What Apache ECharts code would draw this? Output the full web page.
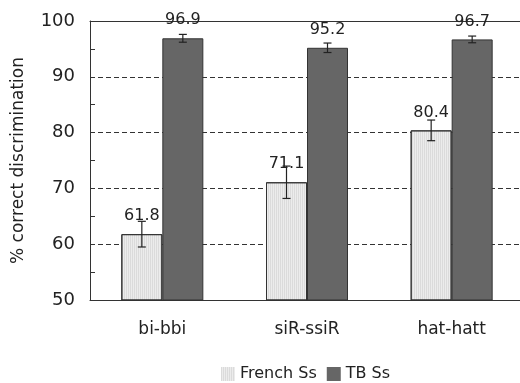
<!DOCTYPE html>
<html>
<head>
<meta charset="utf-8">
<script src="https://cdn.jsdelivr.net/npm/echarts@6/dist/echarts.min.js"></script>
<style>html,body{margin:0;padding:0;background:#fff;}#main{width:520px;height:383px;}</style>
</head>
<body>
<div id="main"></div>
<script>
var categories = ['bi-bbi', 'siR-ssiR', 'hat-hatt'];
var frenchValues = [61.8, 71.1, 80.4];
var frenchErrors = [2.3, 2.9, 1.85];
var tbValues = [96.9, 95.2, 96.7];
var tbErrors = [0.7, 0.85, 0.6];
var seriesNames = ['French Ss', 'TB Ss'];
var yTicks = [50, 60, 70, 80, 90, 100];

var FONT = 'DejaVu Sans';
var BAR_W = 41;

function errData(vals, errs) {
  return vals.map(function (v, i) { return [i, v, errs[i]]; });
}
function errRender(offset) {
  return function (params, api) {
    var i = api.value(0), v = api.value(1), e = api.value(2);
    var top = api.coord([i, v + e]);
    var bot = api.coord([i, v - e]);
    var x = top[0] + offset;
    var cap = 4;
    var st = { stroke: '#222', lineWidth: 1.2 };
    return {
      type: 'group',
      children: [
        { type: 'line', shape: { x1: x, y1: top[1], x2: x, y2: bot[1] }, style: st },
        { type: 'line', shape: { x1: x - cap, y1: top[1], x2: x + cap, y2: top[1] }, style: st },
        { type: 'line', shape: { x1: x - cap, y1: bot[1], x2: x + cap, y2: bot[1] }, style: st }
      ]
    };
  };
}

var chart = echarts.init(document.getElementById('main'), null, { renderer: 'canvas' });
chart.setOption({
  animation: false,
  backgroundColor: '#fff',
  textStyle: { fontFamily: FONT },
  grid: { left: 90, width: 434, top: 21, height: 279, outerBoundsMode: 'none', containLabel: false },
  legend: {
    data: seriesNames,
    left: 216, top: 361,
    itemWidth: 14, itemHeight: 14, itemGap: 10,
    icon: 'rect',
    itemStyle: { borderWidth: 0 },
    textStyle: { fontSize: 16, color: '#222', fontFamily: FONT }
  },
  xAxis: [{
    type: 'category',
    data: categories,
    axisLine: { lineStyle: { color: '#333' } },
    axisTick: { show: false },
    axisLabel: { fontSize: 17, color: '#222', margin: 21, fontFamily: FONT },
    splitLine: { show: false }
  }, {
    type: 'category',
    position: 'top',
    data: categories,
    axisLine: { show: true, onZero: false, lineStyle: { color: '#333' } },
    axisTick: { show: false },
    axisLabel: { show: false },
    splitLine: { show: false }
  }],
  yAxis: [{
    type: 'value',
    min: yTicks[0], max: yTicks[yTicks.length - 1], interval: 10,
    name: '% correct discrimination',
    nameLocation: 'middle',
    nameGap: 63,
    nameTextStyle: { fontSize: 17, color: '#222', fontFamily: FONT },
    axisLine: { show: true, lineStyle: { color: '#333' } },
    axisTick: { show: false },
    axisLabel: { fontSize: 18, color: '#222', margin: 15, fontFamily: FONT },
    splitLine: { show: true, lineStyle: { color: '#333', type: [5, 3], width: 1.2 } }
  }, {
    type: 'value',
    position: 'left',
    offset: -5,
    min: yTicks[0], max: yTicks[yTicks.length - 1], interval: 5,
    axisLine: { show: false },
    axisTick: { show: true, length: 5, lineStyle: { color: '#333' } },
    axisLabel: { show: false },
    splitLine: { show: false }
  }],
  series: [
    {
      name: seriesNames[0], type: 'bar', data: frenchValues,
      barWidth: BAR_W, barGap: '0%',
      itemStyle: {
        color: '#ececec', borderColor: '#333', borderWidth: 1,
        decal: { symbol: 'rect', symbolSize: 1, dashArrayX: [1, 1], dashArrayY: [4, 0], color: 'rgba(0,0,0,0.07)' }
      },
      label: { show: true, position: 'top', distance: 10, fontSize: 16, color: '#222', fontFamily: FONT }
    },
    {
      name: seriesNames[1], type: 'bar', data: tbValues,
      barWidth: BAR_W, barGap: '0%',
      itemStyle: { color: '#666666', borderColor: '#333', borderWidth: 1 },
      label: { show: true, position: 'top', distance: 10, fontSize: 16, color: '#222', fontFamily: FONT }
    },
    {
      type: 'custom', name: 'errF', data: errData(frenchValues, frenchErrors),
      renderItem: errRender(-BAR_W / 2), z: 5, silent: true
    },
    {
      type: 'custom', name: 'errT', data: errData(tbValues, tbErrors),
      renderItem: errRender(BAR_W / 2), z: 5, silent: true
    }
  ]
});
</script>
</body>
</html>
